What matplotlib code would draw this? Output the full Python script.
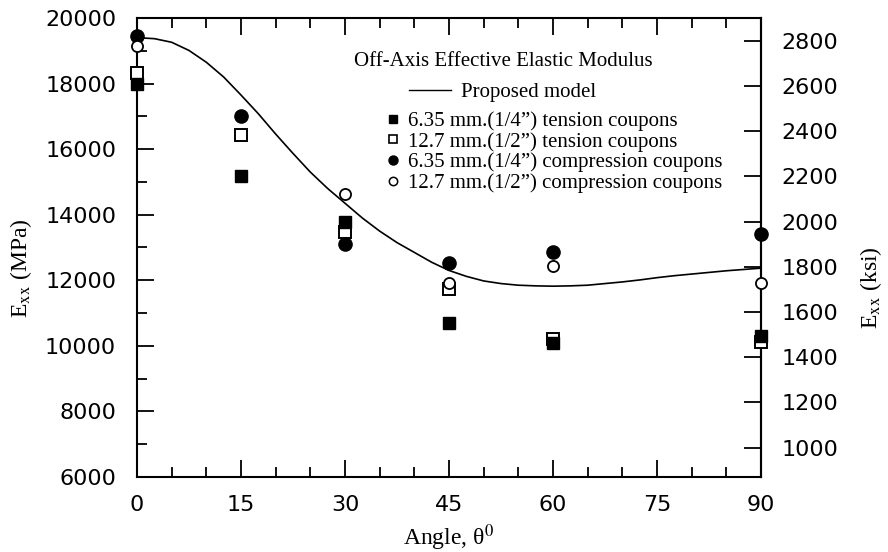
import numpy as np
import matplotlib
matplotlib.use("Agg")
import matplotlib.pyplot as plt
from matplotlib.lines import Line2D
from matplotlib.ticker import MultipleLocator

# ---- data ----
angles = [0, 15, 30, 45, 60, 90]
tension_635 = [17990, 15180, 13790, 10710, 10080, 10300]
tension_127 = [18330, 16440, 13480, 11720, 10200, 10120]
compression_635 = [19450, 17010, 13110, 12520, 12870, 13410]
compression_127 = [19150, np.nan, 14630, 11930, 12450, 11930]

model_angles = [0, 2.5, 5, 7.5, 10, 12.5, 15, 17.5, 20, 22.5, 25, 27.5, 30,
                32.5, 35, 37.5, 40, 42.5, 45, 47.5, 50, 52.5, 55, 57.5, 60,
                62.5, 65, 67.5, 70, 72.5, 75, 77.5, 80, 82.5, 85, 87.5, 90]
model_exx = [19400, 19370, 19260, 19010, 18650, 18200, 17650, 17080, 16460,
             15870, 15300, 14800, 14350, 13900, 13500, 13150, 12850, 12550,
             12300, 12120, 11980, 11900, 11850, 11830, 11820, 11830, 11850,
             11900, 11950, 12010, 12080, 12140, 12190, 12240, 12290, 12330, 12370]

MPA_PER_KSI = 6.895

SERIF = "Liberation Serif"
SANS = "DejaVu Sans"
plt.rcParams["mathtext.fontset"] = "stix"

fig = plt.figure(figsize=(8.88, 5.52), dpi=100)
ax = fig.add_axes([137 / 888, 1 - 477 / 552, 624 / 888, 459 / 552])

ax.plot(model_angles, model_exx, color="black", linewidth=1.2, zorder=2)

ms = 9
ax.plot(angles, tension_127, linestyle="none", marker="s", markersize=ms - 1,
        markerfacecolor="white", markeredgecolor="black", markeredgewidth=1.4,
        zorder=3, clip_on=False)
ax.plot(angles, tension_635, linestyle="none", marker="s", markersize=ms,
        color="black", zorder=4, clip_on=False)
ax.plot(angles, compression_635, linestyle="none", marker="o", markersize=ms + 0.5,
        color="black", zorder=4, clip_on=False)
ax.plot(angles, compression_127, linestyle="none", marker="o", markersize=ms - 1,
        markerfacecolor="white", markeredgecolor="black", markeredgewidth=1.3,
        zorder=5, clip_on=False)

ax.set_xlim(0, 90)
ax.set_ylim(6000, 20000)
ax.xaxis.set_major_locator(MultipleLocator(15))
ax.xaxis.set_minor_locator(MultipleLocator(5))
ax.yaxis.set_major_locator(MultipleLocator(2000))
ax.yaxis.set_minor_locator(MultipleLocator(1000))

for sp in ax.spines.values():
    sp.set_linewidth(1.5)

ax.tick_params(which="both", direction="in", top=True, right=False,
               labelsize=16, width=1.3)
ax.tick_params(which="major", length=12.5)
ax.tick_params(which="minor", length=7.5)
ax.tick_params(axis="x", which="major", pad=13)
ax.tick_params(axis="y", which="major", pad=15)
for lab in ax.get_xticklabels() + ax.get_yticklabels():
    lab.set_family(SANS)

ax.set_xlabel("Angle, \u03b8$^{0}$", family=SERIF, fontsize=17)
ax.xaxis.set_label_coords(0.5, -0.1)
ax.set_ylabel(r"E$_{\rm xx}$ (MPa)", family=SERIF, fontsize=17)
ax.yaxis.set_label_coords(-0.165, 0.455)

# right axis in ksi
sec = ax.secondary_yaxis("right", functions=(lambda m: m / MPA_PER_KSI,
                                              lambda k: k * MPA_PER_KSI))
sec.set_yticks(np.arange(1000, 2801, 200))
sec.tick_params(direction="in", length=12.5, width=1.3, labelsize=16, pad=15)
sec.spines["right"].set_linewidth(1.5)
for lab in sec.get_yticklabels():
    lab.set_family(SANS)
fig.text(871 / 888, 1 - 288 / 552, r"E$_{\rm xx}$ (ksi)", family=SERIF,
         fontsize=17, rotation=90, ha="center", va="center")

# legend: title + model line, then the markers
h_model = [Line2D([], [], color="black", linewidth=1.0)]
leg1 = ax.legend(h_model, ["Proposed model"], loc="upper center",
                 bbox_to_anchor=(0.5865, 0.925), frameon=False,
                 title="Off-Axis Effective Elastic Modulus",
                 prop={"family": SERIF, "size": 15},
                 title_fontproperties={"family": SERIF, "size": 15},
                 handlelength=2.0, handletextpad=0.5, borderpad=0,
                 borderaxespad=0, labelspacing=0.3)
leg1._legend_box.sep = 8
ax.add_artist(leg1)

h_marks = [
    Line2D([], [], linestyle="none", marker="s", markersize=6, color="black"),
    Line2D([], [], linestyle="none", marker="s", markersize=6,
           markerfacecolor="white", markeredgecolor="black", markeredgewidth=1.2),
    Line2D([], [], linestyle="none", marker="o", markersize=6.5, color="black"),
    Line2D([], [], linestyle="none", marker="o", markersize=6,
           markerfacecolor="white", markeredgecolor="black", markeredgewidth=1.1),
]
labels = [
    "6.35 mm.(1/4\u201d) tension coupons",
    "12.7 mm.(1/2\u201d) tension coupons",
    "6.35 mm.(1/4\u201d) compression coupons",
    "12.7 mm.(1/2\u201d) compression coupons",
]
ax.legend(h_marks, labels, loc="upper left", bbox_to_anchor=(0.40, 0.797),
          frameon=False, prop={"family": SERIF, "size": 15},
          handlelength=0.6, handletextpad=0.45, labelspacing=0.05,
          borderpad=0, borderaxespad=0)

fig.savefig("out.png", dpi=100)
plt.close(fig)
